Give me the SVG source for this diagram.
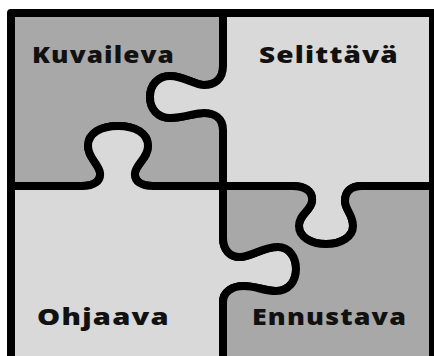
<svg xmlns="http://www.w3.org/2000/svg" width="434" height="356" viewBox="0 0 434 356">
<style>
.piece{stroke:#000;stroke-width:8;stroke-linejoin:round}
.dark{fill:#a8a8a8}
.light{fill:#d9d9d9}
.lbl{font-family:"Open Sans","DejaVu Sans",sans-serif;font-weight:800;font-size:23.5px;fill:#111;letter-spacing:1px}
</style>
<rect width="434" height="356" fill="#fff"/>
<g id="kuvaileva">
<path class="piece dark" d="M11,13 L223,13 L223,66 C223,80 214,85 204,85 C194,85 184,76 170,76 C158,76 150,85 150,97 C150,109 158,118 170,118 C184,118 194,113 204,113 C214,113 223,118 223,130 L223,186 L153,186 C141,186 134,181 135,173 C136,164 148,158 148,146 C148,133 135,126 118,126 C101,126 88,133 88,146 C88,158 99,164 100,173 C101,181 94,186 82,186 L11,186 Z"/>
<text class="lbl" x="32" y="63" textLength="143" lengthAdjust="spacingAndGlyphs">Kuvaileva</text>
</g>
<g id="selittava">
<path class="piece light" d="M223,13 L433,13 L433,186 L362,186 C350,186 345,192 345,201 C345,210 353,214 353,226 C353,237 341,244 326,244 C311,244 299,237 299,226 C299,214 311,211 312,201 C313,191 305,186 292,186 L223,186 L223,130 C223,118 214,113 204,113 C194,113 184,118 170,118 C158,118 150,109 150,97 C150,85 158,76 170,76 C184,76 194,85 204,85 C214,85 223,80 223,66 Z"/>
<text class="lbl" x="259" y="63" textLength="140" lengthAdjust="spacingAndGlyphs">Selittävä</text>
</g>
<g id="ohjaava">
<path class="piece light" d="M11,186 L82,186 C94,186 101,181 100,173 C99,164 88,158 88,146 C88,133 101,126 118,126 C135,126 148,133 148,146 C148,158 136,164 135,173 C134,181 141,186 153,186 L223,186 L223,238 C223,250 230,257 240,257 C252,257 262,247 278,247 C289,247 296,257 296,269 C296,282 288,291 276,291 C264,291 256,286 244,286 C232,286 223,292 223,302 L223,364 L11,364 Z"/>
<text class="lbl" x="37" y="325" textLength="133" lengthAdjust="spacingAndGlyphs">Ohjaava</text>
</g>
<g id="ennustava">
<path class="piece dark" d="M223,186 L292,186 C305,186 313,191 312,201 C311,211 299,214 299,226 C299,237 311,244 326,244 C341,244 353,237 353,226 C353,214 345,210 345,201 C345,192 350,186 362,186 L433,186 L433,364 L223,364 L223,302 C223,292 232,286 244,286 C256,286 264,291 276,291 C288,291 296,282 296,269 C296,257 289,247 278,247 C262,247 252,257 240,257 C230,257 223,250 223,238 Z"/>
<text class="lbl" x="252" y="325" textLength="155" lengthAdjust="spacingAndGlyphs">Ennustava</text>
</g>
</svg>
